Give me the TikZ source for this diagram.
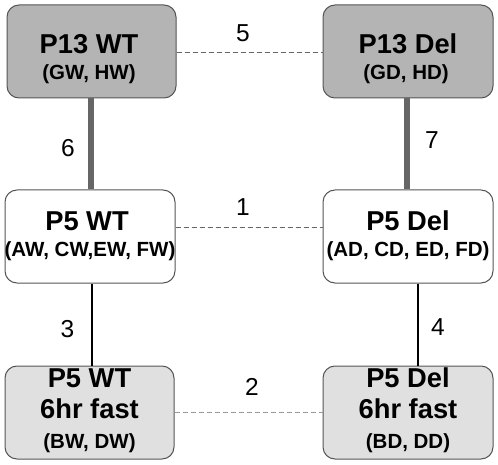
\documentclass[tikz,border=0pt]{standalone}
\usepackage{fontspec}
\setmainfont{Liberation Sans}
\definecolor{topfill}{HTML}{B4B4B4}
\definecolor{botfill}{HTML}{E0E0E0}
\definecolor{boxline}{HTML}{555555}
\definecolor{thickgray}{HTML}{666666}
\definecolor{dashdark}{HTML}{666666}
\definecolor{dashlight}{HTML}{999999}
\tikzset{
  box/.style={draw=boxline, line width=1pt, rounded corners=12pt, inner sep=0pt},
  topbox/.style={box, fill=topfill},
  midbox/.style={box, fill=white},
  botbox/.style={box, fill=botfill},
  title/.style={font=\bfseries\fontsize{27.3}{32}\selectfont, anchor=base, inner sep=0pt},
  sub/.style={font=\bfseries\fontsize{20.5}{24}\selectfont, anchor=base, inner sep=0pt},
  num/.style={font=\fontsize{24.5}{28}\selectfont, inner sep=0pt},
  thickline/.style={draw=thickgray, line width=6pt},
  blackline/.style={draw=black, line width=2.5pt},
  dashdarkline/.style={draw=dashdark, line width=1pt, dash pattern=on 5pt off 3pt},
  dashlightline/.style={draw=dashlight, line width=1pt, dash pattern=on 5pt off 3pt},
}
\begin{document}
\begin{tikzpicture}[x=1pt,y=-1pt]
\useasboundingbox (0,0) rectangle (498,465);
% boxes
\node[topbox, minimum width=169pt, minimum height=93pt] (g13w) at (91.5,51.5) {};
\node[topbox, minimum width=170pt, minimum height=93pt] (g13d) at (408,51.5) {};
\node[midbox, minimum width=170pt, minimum height=93pt] (p5w) at (90,236.5) {};
\node[midbox, minimum width=170pt, minimum height=93pt] (p5d) at (408,236.5) {};
\node[botbox, minimum width=169pt, minimum height=93pt] (f5w) at (89.5,412.5) {};
\node[botbox, minimum width=170pt, minimum height=93pt] (f5d) at (408,412.5) {};
% texts
\node[title] (g13wt) at (89,54) {P13 WT};
\node[sub] (g13ws) at (89,80) {(GW, HW)};
\node[title] (g13dt) at (408,54) {P13 Del};
\node[sub] (g13ds) at (406,80) {(GD, HD)};
\node[title] (p5wt) at (87,230) {P5 WT};
\node[sub] (p5ws) at (90,257) {(AW, CW,EW, FW)};
\node[title] (p5dt) at (408,230) {P5 Del};
\node[sub] (p5ds) at (408,257) {(AD, CD, ED, FD)};
\node[title] (f5wt) at (89.5,387) {P5 WT};
\node[title] (f5wf) at (89.5,418) {6hr fast};
\node[sub] (f5ws) at (89.5,448) {(BW, DW)};
\node[title] (f5dt) at (408,387) {P5 Del};
\node[title] (f5df) at (408,418) {6hr fast};
\node[sub] (f5ds) at (408,448) {(BD, DD)};
% connectors
\draw[thickline] ([xshift=-0.5pt]g13w.south) -- ([xshift=-0.5pt]g13w.south |- p5w.north);
\draw[thickline] ([xshift=-1pt]g13d.south) -- ([xshift=-1pt]g13d.south |- p5d.north);
\draw[blackline] ([xshift=2pt]p5w.south) -- ([xshift=2pt]p5w.south |- f5w.north);
\draw[blackline] ([xshift=10pt]p5d.south) -- ([xshift=10pt]p5d.south |- f5d.north);
\draw[dashdarkline] ([yshift=-1pt]g13w.east) -- ([yshift=-1pt]g13w.east -| g13d.west);
\draw[dashdarkline] ([yshift=8.5pt]p5w.east) -- ([yshift=8.5pt]p5w.east -| p5d.west);
\draw[dashlightline] ([yshift=0.5pt]f5w.east) -- ([yshift=0.5pt]f5w.east -| f5d.west);
% numbers
\node[num] (n5) at (243,33) {5};
\node[num] (n1) at (243,207.5) {1};
\node[num] (n2) at (252,387) {2};
\node[num] (n6) at (68,148) {6};
\node[num] (n7) at (432,140) {7};
\node[num] (n3) at (67.5,329) {3};
\node[num] (n4) at (438,327) {4};
\end{tikzpicture}
\end{document}
